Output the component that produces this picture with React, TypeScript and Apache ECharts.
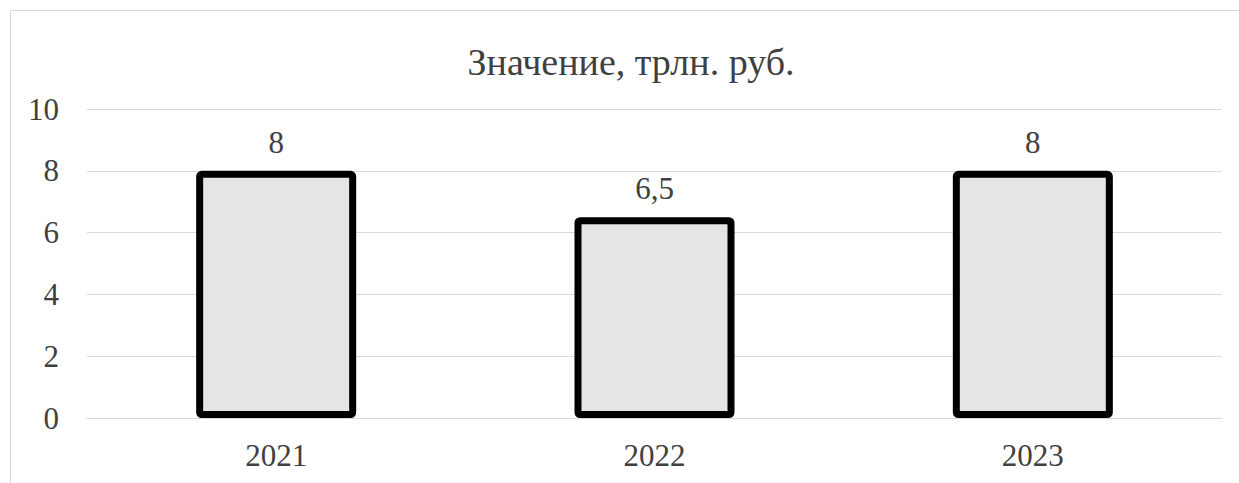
import React, { useEffect, useRef } from "react";
import * as echarts from "echarts";

const categories = ["2021", "2022", "2023"];
const values = [8, 6.5, 8];
const yTicks = [0, 2, 4, 6, 8, 10];
const title = "Значение, трлн. руб.";

export default function App() {
  const ref = useRef<HTMLDivElement>(null);
  useEffect(() => {
    const chart = echarts.init(ref.current!, null, { renderer: "svg" });
    const font = "Liberation Serif";
    chart.setOption({
      animation: false,
      textStyle: { fontFamily: font },
      title: {
        text: title,
        left: 626,
        top: 38,
        textAlign: "center",
        textStyle: { fontFamily: font, fontSize: 38, fontWeight: "normal", color: "#404040" },
      },
      graphic: [
        {
          type: "rect",
          shape: { x: 10.5, y: 10.5, width: 1400, height: 600 },
          style: { fill: "none", stroke: "#d9d9d9", lineWidth: 1 },
          silent: true,
        },
      ],
      grid: { left: 87, right: 17, top: 109, bottom: 65 },
      xAxis: {
        type: "category",
        data: categories,
        axisLine: { show: true, lineStyle: { color: "#d9d9d9", width: 1 } },
        axisTick: { show: false },
        axisLabel: { fontFamily: font, fontSize: 31, color: "#404040", margin: 22 },
      },
      yAxis: {
        type: "value",
        min: yTicks[0],
        max: yTicks[yTicks.length - 1],
        interval: 2,
        axisLine: { show: false },
        axisTick: { show: false },
        splitLine: { lineStyle: { color: "#d9d9d9", width: 1 } },
        axisLabel: { fontFamily: font, fontSize: 31, color: "#404040", margin: 28 },
      },
      series: [
        {
          type: "bar",
          data: values,
          barWidth: 160,
          itemStyle: {
            color: "#e5e5e5",
            borderColor: "#000000",
            borderWidth: 7,
            borderRadius: 2,
          },
          label: {
            show: true,
            position: "top",
            distance: 13,
            fontFamily: font,
            fontSize: 31,
            color: "#404040",
            formatter: (p: any) => String(p.value).replace(".", ","),
          },
        },
      ],
    });
    return () => chart.dispose();
  }, []);
  return (
    <div
      ref={ref}
      style={{ position: "fixed", left: 0, top: 0, width: 1239, height: 483, background: "#fff" }}
    />
  );
}
